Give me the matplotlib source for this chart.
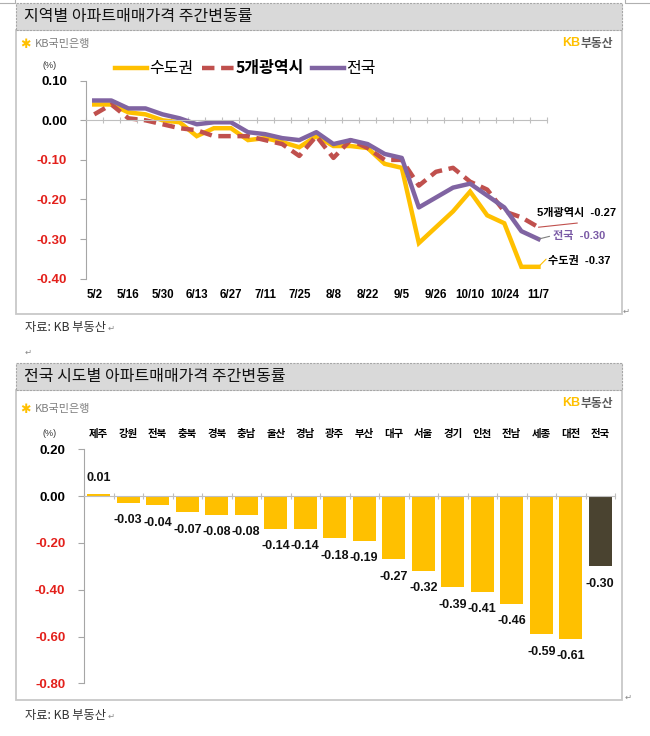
import numpy as np
import matplotlib
matplotlib.use("Agg")
import matplotlib.pyplot as plt
import matplotlib.transforms as mtransforms
from matplotlib.patches import Rectangle
from matplotlib.lines import Line2D

plt.rcParams['font.family'] = ['Liberation Sans', 'Noto Sans CJK KR', 'DejaVu Sans']
KR = ['Noto Sans CJK KR', 'DejaVu Sans']

# 주간 날짜 (9/12 추석주간 없음)
dates = ['5/2', '5/9', '5/16', '5/23', '5/30', '6/6', '6/13', '6/20', '6/27', '7/4',
         '7/11', '7/18', '7/25', '8/1', '8/8', '8/15', '8/22', '8/29', '9/5', '9/19',
         '9/26', '10/3', '10/10', '10/17', '10/24', '10/31', '11/7']
capital = [0.04, 0.04, 0.02, 0.015, 0.00, -0.005, -0.04, -0.02, -0.02, -0.05,
           -0.045, -0.055, -0.068, -0.04, -0.065, -0.065, -0.07, -0.11, -0.12, -0.31,
           -0.27, -0.23, -0.18, -0.24, -0.26, -0.37, -0.37]
metro5 = [0.015, 0.04, 0.005, 0.00, -0.01, -0.02, -0.025, -0.04, -0.04, -0.04,
          -0.05, -0.06, -0.09, -0.04, -0.095, -0.05, -0.07, -0.10, -0.10, -0.165,
          -0.13, -0.12, -0.155, -0.175, -0.23, -0.245, -0.27]
nation = [0.05, 0.05, 0.03, 0.03, 0.015, 0.005, -0.01, -0.005, -0.005, -0.03,
          -0.035, -0.045, -0.05, -0.03, -0.06, -0.05, -0.06, -0.085, -0.095, -0.22,
          -0.195, -0.17, -0.16, -0.19, -0.22, -0.28, -0.30]

regions = ['제주', '강원', '전북', '충북', '경북', '충남', '울산', '경남', '광주',
           '부산', '대구', '서울', '경기', '인천', '전남', '세종', '대전', '전국']
region_vals = [0.01, -0.03, -0.04, -0.07, -0.08, -0.08, -0.14, -0.14, -0.18,
               -0.19, -0.27, -0.32, -0.39, -0.41, -0.46, -0.59, -0.61, -0.30]

YELLOW = '#FFC000'
RED = '#C0504D'
PURPLE = '#8064A2'
NEG = '#E3201B'

W, H = 650, 736
fx = lambda x: x / W
fy = lambda y: 1 - y / H

fig = plt.figure(figsize=(W / 100, H / 100), dpi=100)


def box(x0, y0, x1, y1, **kw):
    fig.add_artist(Rectangle((fx(x0), fy(y1)), (x1 - x0) / W, (y1 - y0) / H,
                             transform=fig.transFigure, zorder=-5, **kw))


def ftext(x, y, s, **kw):
    fig.text(fx(x), fy(y), s, **kw)


def panel(top, bottom, title):
    box(16, top + 27, 622, bottom, facecolor='white', edgecolor='#c8c8c8', lw=1.3)
    box(16, top, 622, top + 27, facecolor='#d9d9d9', edgecolor='#a6a6a6', lw=0.8,
        linestyle=(0, (2, 1)))
    ftext(24, top + 14, title, family=KR, fontsize=11.5, va='center', color='#111111')


def logos(y_left, y_right):
    ftext(20, y_left, '✱', family=['DejaVu Sans'], fontsize=9, color=YELLOW, va='center')
    ftext(35, y_left, 'KB국민은행', family=KR, fontsize=8, color='#808080', va='center')
    ftext(580, y_right, 'KB', fontsize=9, fontweight='bold', color=YELLOW, va='center', ha='right')
    ftext(581, y_right, '부동산', family=KR, fontsize=8.5, fontweight='bold', color='#595959', va='center')


# 페이지 모서리 표시
fig.add_artist(Line2D([0, fx(15), fx(15)], [fy(3), fy(3), fy(0)], transform=fig.transFigure,
                      color='#b0b0b0', lw=0.8))
fig.add_artist(Line2D([1, fx(625), fx(625)], [fy(3), fy(3), fy(0)], transform=fig.transFigure,
                      color='#b0b0b0', lw=0.8))

panel(3, 314, '지역별 아파트매매가격 주간변동률')
logos(44, 43)
panel(363, 700, '전국 시도별 아파트매매가격 주간변동률')
logos(409, 403)

ftext(25, 327, '자료: KB 부동산', family=KR, fontsize=8.8, color='#333333', va='center')
ftext(108, 328, '↵', family=['DejaVu Sans'], fontsize=6, color='#888888', va='center')
ftext(25, 352, '↵', family=['DejaVu Sans'], fontsize=6, color='#888888', va='center')
ftext(623, 311, '↵', family=['DejaVu Sans'], fontsize=6, color='#888888', va='center')
ftext(25, 715, '자료: KB 부동산', family=KR, fontsize=8.8, color='#333333', va='center')
ftext(108, 716, '↵', family=['DejaVu Sans'], fontsize=6, color='#888888', va='center')
ftext(625, 697, '↵', family=['DejaVu Sans'], fontsize=6, color='#888888', va='center')


def style_yaxis(ax, ticks, size):
    ticks = [0.0 if abs(t) < 1e-9 else t for t in ticks]
    ax.set_yticks(ticks)
    ax.set_yticklabels(['%.2f' % t for t in ticks])
    for t, lab in zip(ticks, ax.get_yticklabels()):
        lab.set_color(NEG if t < 0 else 'black')
        lab.set_fontweight('bold')
        lab.set_fontsize(size)
    ax.tick_params(axis='y', direction='out', length=4, color='#a6a6a6', pad=9.5)
    for s in ['top', 'right']:
        ax.spines[s].set_visible(False)
    ax.spines['left'].set_color('#a6a6a6')
    ax.spines['bottom'].set_position(('data', 0))
    ax.spines['bottom'].set_color('#bfbfbf')
    ax.set_facecolor('none')


# ---- 상단: 지역별 주간변동률 ----
ax1 = fig.add_axes([fx(85.7), fy(278.7), 461.3 / W, 198 / H])
x = np.arange(len(dates))
ax1.plot(x, capital, color=YELLOW, lw=3.2, label='수도권', solid_joinstyle='miter')
ax1.plot(x, metro5, color=RED, lw=3.2, dashes=(2.8, 1.5), label='5개광역시')
ax1.plot(x, nation, color=PURPLE, lw=3.2, label='전국')
ax1.set_xlim(-0.5, len(dates) - 0.5)
ax1.set_ylim(-0.40, 0.10)
style_yaxis(ax1, np.round(np.arange(-0.4, 0.101, 0.1), 2), 9.5)
ax1.set_xticks(np.arange(-0.5, len(dates), 1))
ax1.set_xticklabels([])
ax1.tick_params(axis='x', direction='inout', length=4, color='#bfbfbf')
tr1 = mtransforms.blended_transform_factory(ax1.transData, ax1.transAxes)
for i in range(0, len(dates), 2):
    ax1.text(x[i], -0.082, dates[i], transform=tr1, ha='center', va='center',
             fontsize=8.3, fontweight='bold', clip_on=False)
ftext(50, 66, '(%)', fontsize=6.5, ha='center', va='center', color='#333333')

leg = ax1.legend(loc='center left', bbox_to_anchor=(fx(115), fy(69)),
                 bbox_transform=fig.transFigure, ncol=3, frameon=False,
                 prop={'family': KR, 'size': 11.5}, handlelength=2.0,
                 handletextpad=0.15, columnspacing=0.5, borderpad=0, borderaxespad=0)
leg.get_texts()[1].set_fontweight('bold')

last = len(dates) - 1
lead = dict(arrowstyle='-', shrinkA=0, shrinkB=0, lw=0.8)
ax1.annotate('', xy=(last, metro5[-1]), xytext=(28, 3), textcoords='offset points',
             arrowprops=dict(lead, color=RED))
ax1.annotate('5개광역시  %.2f' % metro5[-1], xy=(last, metro5[-1]), xytext=(-1, 10),
             textcoords='offset points', ha='left', va='center', fontsize=8,
             fontweight='bold', annotation_clip=False)
ax1.annotate('', xy=(last, nation[-1]), xytext=(8, 2), textcoords='offset points',
             arrowprops=dict(lead, color='#7f7f7f'))
ax1.annotate('전국  %.2f' % nation[-1], xy=(last, nation[-1]), xytext=(10.5, 2),
             textcoords='offset points', ha='left', va='center', fontsize=8,
             fontweight='bold', color='#7B5BA6', annotation_clip=False)
ax1.annotate('', xy=(last, capital[-1]), xytext=(5.5, 5.5), textcoords='offset points',
             arrowprops=dict(lead, color=YELLOW))
ax1.annotate('수도권  %.2f' % capital[-1], xy=(last, capital[-1]), xytext=(7, 4.5),
             textcoords='offset points', ha='left', va='center', fontsize=8,
             fontweight='bold', annotation_clip=False)

# ---- 하단: 시도별 주간변동률 ----
ax2 = fig.add_axes([fx(84), fy(683.3), 531 / W, 234 / H])
xb = np.arange(len(regions))
colors = [YELLOW] * (len(regions) - 1) + ['#4A4330']
ax2.bar(xb, region_vals, width=0.77, color=colors)
ax2.set_xlim(-0.5, len(regions) - 0.5)
ax2.set_ylim(-0.8, 0.2)
style_yaxis(ax2, np.round(np.arange(-0.8, 0.201, 0.2), 2), 9.5)
ax2.set_xticks(np.arange(-0.5, len(regions), 1))
ax2.set_xticklabels([])
ax2.tick_params(axis='x', direction='inout', length=4, color='#bfbfbf')
tr2 = mtransforms.blended_transform_factory(ax2.transData, ax2.transAxes)
for i, r in enumerate(regions):
    ax2.text(xb[i], 1.065, r, transform=tr2, ha='center', va='center', family=KR,
             fontsize=7.5, fontweight='bold', clip_on=False)
for xi, v in zip(xb, region_vals):
    ax2.annotate('%.2f' % v, xy=(xi, v), xytext=(0, 11 if v > 0 else -12.5),
                 textcoords='offset points', ha='center', va='center', fontsize=9,
                 fontweight='bold', color='#111111', annotation_clip=False)
ftext(50, 433, '(%)', fontsize=6.5, ha='center', va='center', color='#333333')

fig.savefig('out.png', dpi=100)
